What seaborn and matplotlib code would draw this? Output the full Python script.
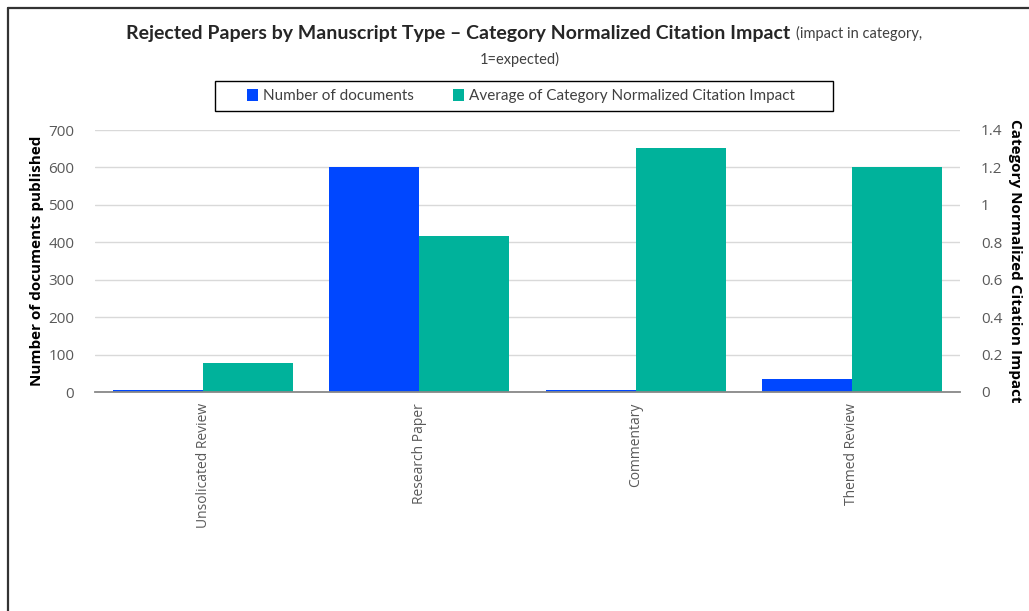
import pandas as pd
import numpy as np
import matplotlib
matplotlib.use("Agg")
import matplotlib.pyplot as plt
from matplotlib.patches import Patch, Rectangle
from matplotlib.lines import Line2D
from matplotlib.ticker import FuncFormatter
import seaborn as sns

# Data
manuscript_types = ["Unsolicated Review", "Research Paper", "Commentary", "Themed Review"]
num_documents = [5, 600, 5, 35]
avg_cnci = [0.155, 0.835, 1.305, 1.203]

series_names = ["Number of documents", "Average of Category Normalized Citation Impact"]
series_colors = ["#0047ff", "#00b29b"]

W, H = 1029, 611


def build_frame():
    # long table: left values only for docs, right values only for CNCI
    rows = []
    for t, n, c in zip(manuscript_types, num_documents, avg_cnci):
        rows.append({"type": t, "series": series_names[0], "left": n, "right": np.nan})
        rows.append({"type": t, "series": series_names[1], "left": np.nan, "right": c})
    return pd.DataFrame(rows)


def main():
    sns.set_style("white")
    plt.rcParams["font.family"] = ["Open Sans", "DejaVu Sans"]

    df = build_frame()
    palette = dict(zip(series_names, series_colors))

    fig = plt.figure(figsize=(W / 100, H / 100), dpi=100)
    ax = fig.add_axes([95 / W, 1 - 392 / H, 865 / W, 262 / H])
    ax2 = ax.twinx()

    sns.barplot(data=df, x="type", y="left", hue="series", hue_order=series_names,
                palette=palette, width=0.833, ax=ax, legend=False, errorbar=None,
                saturation=1, linewidth=0)
    sns.barplot(data=df, x="type", y="right", hue="series", hue_order=series_names,
                palette=palette, width=0.833, ax=ax2, legend=False, errorbar=None,
                saturation=1, linewidth=0)

    ax.set_ylim(0, 700)
    ax.set_yticks(range(0, 701, 100))
    ax2.set_ylim(0, 1.4)
    ax2.set_yticks(np.arange(0, 1.41, 0.2))
    ax2.yaxis.set_major_formatter(FuncFormatter(lambda v, p: f"{v:g}"))
    ax.set_xlim(-0.5, 3.5)

    ax.grid(axis="y", color="#d9d9d9", linewidth=1)
    ax.set_axisbelow(True)
    for a in (ax, ax2):
        for s in a.spines.values():
            s.set_visible(False)
        a.tick_params(axis="both", length=0, colors="#595959", labelsize=11)
    ax2.spines["bottom"].set_visible(True)
    ax2.spines["bottom"].set_color("#888888")
    ax2.spines["bottom"].set_linewidth(1.3)

    ax.set_xlabel("")
    ax.set_ylabel("Number of documents published", fontweight="bold", fontsize=11,
                  color="black", labelpad=3)
    ax2.set_ylabel("Category Normalized Citation Impact", fontweight="bold", fontsize=11,
                   color="black", rotation=270, labelpad=14)
    ax.tick_params(axis="x", labelsize=10, pad=8)
    plt.setp(ax.get_xticklabels(), rotation=90)
    ax.tick_params(axis="y", pad=15)
    ax2.tick_params(axis="y", pad=15)

    # Title: bold part followed by a normal part, whole line centred
    title_font = ["Lato", "DejaVu Sans"]
    ty = 1 - 33 / H
    t1 = fig.text(0, ty, "Rejected Papers by Manuscript Type \u2013 Category Normalized Citation Impact",
                  fontsize=14, fontweight="bold", family=title_font, ha="left", va="center")
    t2 = fig.text(0, ty, "(impact in category,", fontsize=10.5, color="#404040",
                  family=title_font, ha="left", va="center")
    fig.canvas.draw()
    r = fig.canvas.get_renderer()
    w1 = t1.get_window_extent(r).width
    w2 = t2.get_window_extent(r).width
    gap = 6
    x_start = 524 - (w1 + gap + w2) / 2
    t1.set_x(x_start / W)
    t2.set_x((x_start + w1 + gap) / W)
    fig.text(520 / W, 1 - 59 / H, "1=expected)", fontsize=10.5, color="#404040",
             family=title_font, ha="center", va="center")

    # legend box drawn separately so its padding can match
    fig.add_artist(Rectangle((215 / W, 1 - 111 / H), 618 / W, 30 / H, transform=fig.transFigure,
                             facecolor="white", edgecolor="black", linewidth=1))
    handles = [Patch(facecolor=c, edgecolor="none") for c in series_colors]
    leg = fig.legend(handles, series_names, loc="center", bbox_to_anchor=(521 / W, 1 - 96 / H),
                     ncol=2, frameon=False,
                     handlelength=0.7, handleheight=0.9, handletextpad=0.3,
                     columnspacing=2.6,
                     prop={"family": title_font, "size": 11})
    for txt in leg.get_texts():
        txt.set_color("#404040")

    # outer border (top and left)
    x0, y0 = 8 / W, 1 - 8 / H
    fig.add_artist(Line2D([x0, 1.0], [y0, y0], transform=fig.transFigure,
                          color="#333333", linewidth=1.6))
    fig.add_artist(Line2D([x0, x0], [y0, 0.0], transform=fig.transFigure,
                          color="#333333", linewidth=1.6))

    fig.savefig("out.png", dpi=100)
    plt.close(fig)


if __name__ == "__main__":
    main()
